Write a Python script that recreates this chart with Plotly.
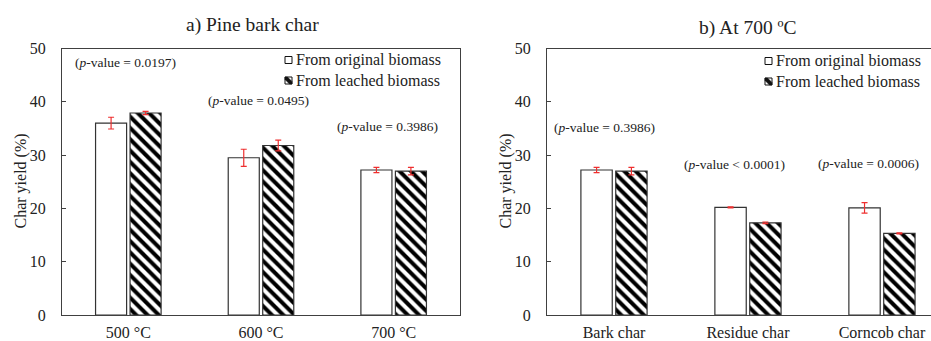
import plotly.graph_objects as go

# ---- data ----
temps = ["500 °C", "600 °C", "700 °C"]
pine_original = [36.0, 29.5, 27.2]
pine_original_err = [1.1, 1.6, 0.5]
pine_leached = [37.9, 31.8, 27.0]
pine_leached_err = [0.3, 1.0, 0.7]
pine_pvalues = ["(<i>p</i>-value = 0.0197)", "(<i>p</i>-value = 0.0495)", "(<i>p</i>-value = 0.3986)"]

chars = ["Bark char", "Residue char", "Corncob char"]
c700_original = [27.2, 20.2, 20.1]
c700_original_err = [0.5, 0.1, 1.0]
c700_leached = [27.0, 17.3, 15.3]
c700_leached_err = [0.7, 0.15, 0.1]
c700_pvalues = ["(<i>p</i>-value = 0.3986)", "(<i>p</i>-value &lt; 0.0001)", "(<i>p</i>-value = 0.0006)"]

series_names = ["From original biomass", "From leached biomass"]

FONT = "Liberation Serif, Times New Roman, serif"
W, H = 931, 341
ERR = "#ee2f2f"
EDGE = "#333333"
AX = "#404040"
TXT = "#222222"

fig = go.Figure()

def add_pair(cats, orig, oerr, leach, lerr, xa, ya):
    fig.add_trace(go.Bar(
        x=cats, y=orig, name=series_names[0], xaxis=xa, yaxis=ya, showlegend=False,
        marker=dict(color="white", line=dict(color=EDGE, width=1.2)),
        error_y=dict(type="data", array=oerr, color=ERR, thickness=1.2, width=3),
    ))
    fig.add_trace(go.Bar(
        x=cats, y=leach, name=series_names[1], xaxis=xa, yaxis=ya, showlegend=False,
        marker=dict(color="white", line=dict(color=EDGE, width=1.2),
                    pattern=dict(shape="\\", fgcolor="black", bgcolor="white",
                                 size=8, solidity=0.5, fillmode="replace")),
        error_y=dict(type="data", array=lerr, color=ERR, thickness=1.2, width=3),
    ))

add_pair(temps, pine_original, pine_original_err, pine_leached, pine_leached_err, "x", "y")
add_pair(chars, c700_original, c700_original_err, c700_leached, c700_leached_err, "x2", "y2")

def px_x(p):
    return p / W

def px_y(p):
    return (H - p) / H

ydom = [px_y(315), px_y(48.5)]

axis_common = dict(showline=True, linecolor=AX, linewidth=1.2, mirror=True,
                   showgrid=False, zeroline=False, automargin=False,
                   tickfont=dict(family=FONT, size=16, color=TXT))

fig.update_layout(
    width=W, height=H,
    margin=dict(l=0, r=0, t=0, b=0),
    paper_bgcolor="white", plot_bgcolor="white",
    barmode="group", bargap=0.48, bargroupgap=0.1,
    font=dict(family=FONT, size=16, color=TXT),
    showlegend=False,
    xaxis=dict(domain=[px_x(62), px_x(460)], range=[-0.5, 2.5], ticks="",
               ticklabelstandoff=3, **axis_common),
    yaxis=dict(domain=ydom, range=[0, 50], dtick=10, ticks="inside", ticklen=4,
               tickcolor=AX, ticklabelstandoff=12, **axis_common),
    xaxis2=dict(domain=[px_x(547), 1.0], range=[-0.5, 2.366], ticks="", anchor="y2",
                ticklabelstandoff=3, **axis_common),
    yaxis2=dict(domain=ydom, range=[0, 50], dtick=10, ticks="inside", ticklen=4,
                tickcolor=AX, ticklabelstandoff=12, anchor="x2", **axis_common),
)

# panel titles
fig.add_annotation(text="a) Pine bark char", xref="paper", yref="paper",
                   x=px_x(252), y=px_y(25), xanchor="center", yanchor="middle",
                   showarrow=False, font=dict(family=FONT, size=19.5, color=TXT))
fig.add_annotation(text="b) At 700 ºC", xref="paper", yref="paper",
                   x=px_x(748), y=px_y(28), xanchor="center", yanchor="middle",
                   showarrow=False, font=dict(family=FONT, size=19.5, color=TXT))

# y-axis titles
for xp in (20, 505):
    fig.add_annotation(text="Char yield (%)", xref="paper", yref="paper",
                       x=px_x(xp), y=px_y(181.5), xanchor="center", yanchor="middle",
                       textangle=-90, showarrow=False,
                       font=dict(family=FONT, size=16, color=TXT))

# legends (swatch + text), one per panel
def add_legend(sx, y1, y2):
    s = 7
    for yc, name, hatched in ((y1, series_names[0], False), (y2, series_names[1], True)):
        x0, x1 = sx, sx + s
        ya, yb = yc - s / 2, yc + s / 2
        fig.add_shape(type="rect", xref="paper", yref="paper",
                      x0=px_x(x0), x1=px_x(x1), y0=px_y(yb), y1=px_y(ya),
                      line=dict(color="#111", width=1), fillcolor="white")
        if hatched:
            path = "M {a},{b} L {c},{b} L {e},{f} L {e},{g} L {h},{g} L {a},{i} Z".format(
                a=px_x(x0), b=px_y(ya), c=px_x(x0 + 2.5), e=px_x(x1), f=px_y(yb - 2.5),
                g=px_y(yb), h=px_x(x1 - 2.5), i=px_y(ya + 2.5))
            fig.add_shape(type="path", xref="paper", yref="paper", path=path,
                          fillcolor="#111", line=dict(color="#111", width=0.5))
        fig.add_annotation(text=name, xref="paper", yref="paper",
                           x=px_x(x1 + 1.5), y=px_y(yc), xanchor="left", yanchor="middle",
                           showarrow=False, font=dict(family=FONT, size=16, color=TXT))

add_legend(285, 60, 80.5)
add_legend(765, 61, 81.5)

# p-value annotations (positions in data coordinates)
pine_pos = [(-0.02, 47.4), (0.98, 40.3), (1.95, 35.4)]
for txt, (xx, yy) in zip(pine_pvalues, pine_pos):
    fig.add_annotation(text=txt, xref="x", yref="y", x=xx, y=yy, showarrow=False,
                       font=dict(family=FONT, size=13.5, color=TXT))
c700_pos = [(-0.07, 35.2), (0.9, 28.3), (1.9, 28.5)]
for txt, (xx, yy) in zip(c700_pvalues, c700_pos):
    fig.add_annotation(text=txt, xref="x2", yref="y2", x=xx, y=yy, showarrow=False,
                       font=dict(family=FONT, size=13.5, color=TXT))

fig.write_html("out.html", config={"displayModeBar": False},
               post_script="document.body.style.margin='0';document.body.style.padding='0';")
